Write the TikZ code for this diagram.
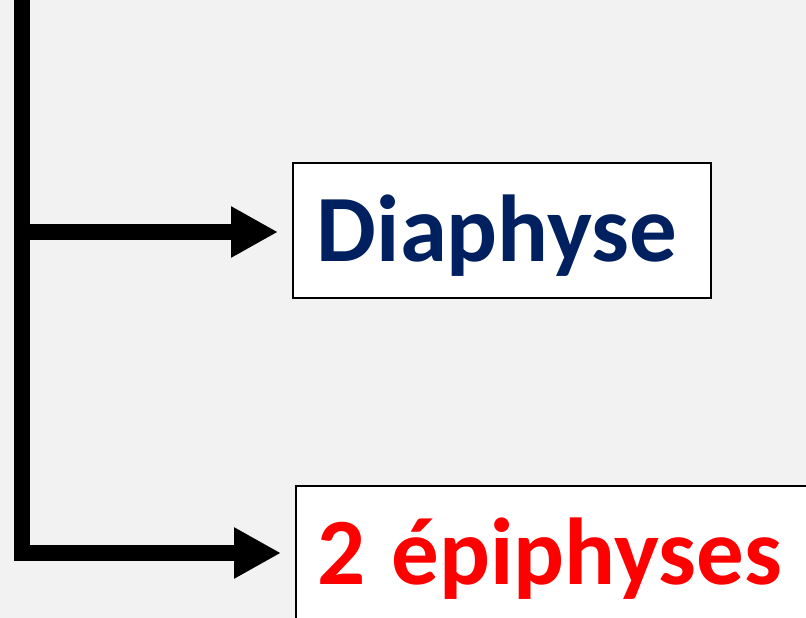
\documentclass[tikz,border=0pt]{standalone}
\usepackage{fontspec}
\setmainfont{Carlito}
\usetikzlibrary{arrows.meta}
\definecolor{bgc}{RGB}{242,242,242}
\definecolor{navy}{RGB}{0,32,96}
\definecolor{redc}{RGB}{255,0,0}
\begin{document}
\begin{tikzpicture}[x=1pt,y=-1pt,
  conn/.style={line width=16pt,-{Triangle[width=48pt,length=47pt]},shorten >=14pt},
  labelbox/.style={draw=black,line width=1.6pt,fill=white,anchor=north west,align=left,
    inner ysep=0pt,font=\fontsize{95}{100}\selectfont\bfseries}]
\useasboundingbox (0,0) rectangle (806,618);
\clip (0,0) rectangle (806,618);
\fill[bgc] (0,0) rectangle (806,618);
\node[labelbox,text=navy,inner xsep=24pt,text width=370pt,text height=99pt,text depth=36pt] (b1) at (292,162) {Diaphyse};
\node[labelbox,text=redc,inner xsep=22pt,text width=560pt,text height=99pt,text depth=60pt] (b2) at (295,485) {2\kern-6pt\ épiphyses};
\coordinate (top) at (21.5,-10);
\coordinate (j1) at (21.5,232);
\coordinate (j2) at (21.5,553);
\draw[line width=15.5pt] (top) -- (21.5,553);
\draw[conn] (j1) -- (j1 -| b1.west);
\draw[conn,line join=miter] (top) -- (j2) -- (j2 -| b2.west);
\end{tikzpicture}
\end{document}
